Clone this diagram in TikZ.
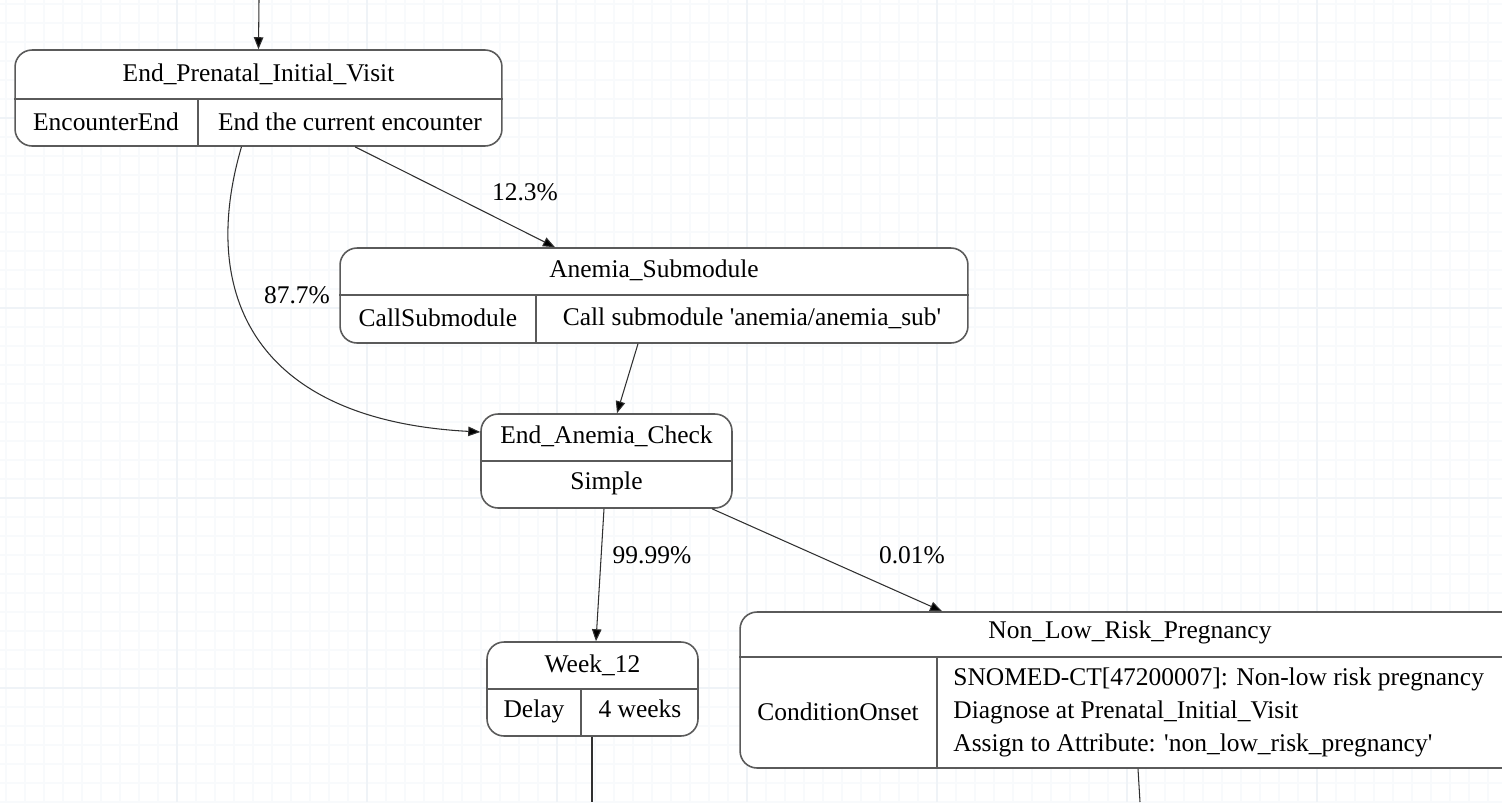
\documentclass[tikz,border=0pt]{standalone}
\usepackage{fontspec}
\setmainfont{Liberation Serif}[Ligatures=TeXOff]
\usetikzlibrary{arrows.meta,calc}
\definecolor{gridminor}{HTML}{F8FAFC}
\definecolor{gridmajor}{HTML}{EFF3F7}
\definecolor{boxline}{HTML}{5A5A5A}
\definecolor{edgeline}{HTML}{303030}
\begin{document}
\begin{tikzpicture}[x=0.02cm,y=-0.02cm,
  box/.style={draw=boxline,line width=0.9pt,rounded corners=0.34cm,fill=white,inner sep=0pt},
  divider/.style={draw=boxline,line width=0.9pt},
  txt/.style={font=\fontsize{14.5}{17}\selectfont,inner sep=0pt,text=black},
  edge/.style={draw=edgeline,line width=0.6pt,-{Triangle[length=0.24cm,width=0.19cm,fill=black]}},
  plain/.style={draw=edgeline,line width=0.6pt},
  lbl/.style={font=\fontsize{14.5}{17}\selectfont,inner sep=0pt,text=black}]
\useasboundingbox (0,0) rectangle (1502,802);
\clip (0,0) rectangle (1502,802);
\fill[white] (0,0) rectangle (1502,802);
% grid
\foreach \i in {0,...,79} {\draw[gridminor,line width=0.6pt] (6+19*\i,0) -- (6+19*\i,802);}
\foreach \i in {0,...,42} {\draw[gridminor,line width=0.6pt] (0,4+19*\i) -- (1502,4+19*\i);}
\foreach \i in {0,...,8} {\draw[gridmajor,line width=0.8pt] (-13+190*\i,0) -- (-13+190*\i,802);}
\foreach \i in {0,...,4} {\draw[gridmajor,line width=0.8pt] (0,-72+190*\i) -- (1502,-72+190*\i);}

% node 1
\node[box,minimum width=9.74cm,minimum height=1.92cm] (n1) at (258.5,98) {};
\draw[divider] (n1.west |- 0,99) -- (n1.east |- 0,99);
\draw[divider] (198,99) -- (198,146);
\node[txt] (n1t) at (258.5,74) {End\_Prenatal\_Initial\_Visit};
\node[txt] (n1a) at (106,122) {EncounterEnd};
\node[txt] (n1b) at (350,122) {End the current encounter};

% node 2
\node[box,minimum width=12.56cm,minimum height=1.9cm] (n2) at (654,295.5) {};
\draw[divider] (n2.west |- 0,295) -- (n2.east |- 0,295);
\draw[divider] (536,295) -- (536,343);
\node[txt] (n2t) at (654,270) {Anemia\_Submodule};
\node[txt] (n2a) at (438,318) {CallSubmodule};
\node[txt] (n2b) at (752,318) {Call submodule 'anemia/anemia\_sub'};

% node 3
\node[box,minimum width=5.02cm,minimum height=1.88cm] (n3) at (606.5,461) {};
\draw[divider] (n3.west |- 0,461) -- (n3.east |- 0,461);
\node[txt] (n3t) at (606.5,436) {End\_Anemia\_Check};
\node[txt] (n3a) at (606.5,483) {Simple};

% node 4
\node[box,minimum width=4.22cm,minimum height=1.88cm] (n4) at (592.5,689) {};
\draw[divider] (n4.west |- 0,689) -- (n4.east |- 0,689);
\draw[divider] (581,689) -- (581,736);
\node[txt] (n4t) at (592.5,665) {Week\_12};
\node[txt,anchor=base] (n4a) at (534,717) {Delay};
\node[txt,anchor=base] (n4b) at (640,717) {4 weeks};

% node 5
\node[box,minimum width=15.6cm,minimum height=3.12cm] (n5) at (1130,690) {};
\draw[divider] (n5.west |- 0,657) -- (n5.east |- 0,657);
\draw[divider] (937,657) -- (937,768);
\node[txt] (n5t) at (1130,632) {Non\_Low\_Risk\_Pregnancy};
\node[txt] (n5a) at (838,712) {ConditionOnset};
\node[txt,anchor=west] (n5b) at (953,679) {SNOMED-CT[47200007]: Non-low risk pregnancy};
\node[txt,anchor=west] (n5c) at (953,712) {Diagnose at Prenatal\_Initial\_Visit};
\node[txt,anchor=west] (n5d) at (953,745) {Assign to Attribute: 'non\_low\_risk\_pregnancy'};

% connectors
\coordinate (top) at (259,0);
\coordinate (bot4) at (592,802);
\coordinate (bot5) at (1140,802);
\draw[edge] (top) -- (n1.north);
\draw[edge] ($(n1.south)+(96.5,0)$) -- ($(n2.north)+(-99,0)$);
\draw[edge] ($(n1.south)+(-17,0)$) .. controls (198,295) and (255,420) .. ($(n3.west)+(0,-29)$);
\draw[edge] ($(n2.south)+(-16,0)$) -- ($(n3.north)+(10.5,0)$);
\draw[edge] ($(n3.south)+(-2.5,0)$) -- ($(n4.north)+(3.5,0)$);
\draw[edge] ($(n3.south)+(105.5,0)$) -- ($(n5.north)+(-188,0)$);
\draw[plain] ($(n4.south)+(-0.5,0)$) -- (bot4);
\draw[plain] ($(n5.south)+(8,0)$) -- (bot5);

% labels
\node[lbl] (l1) at (525,192) {12.3\%};
\node[lbl] (l2) at (297,295) {87.7\%};
\node[lbl] (l3) at (652,555) {99.99\%};
\node[lbl] (l4) at (912,555) {0.01\%};
\end{tikzpicture}
\end{document}
